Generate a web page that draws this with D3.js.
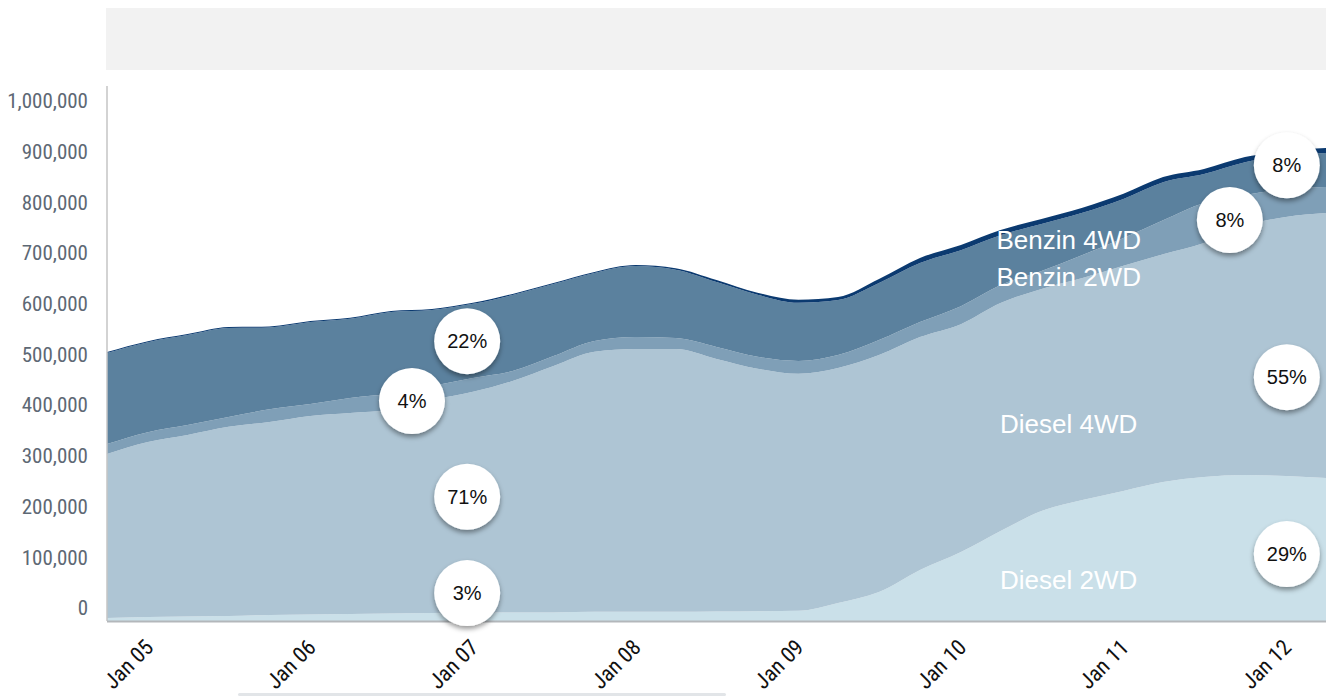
<!DOCTYPE html>
<html lang="de">
<head>
	<meta charset="UTF-8">
	<title>Fahrzeugbestand</title>
	<style>
		body { margin: 0; background: #fff; }
		svg { display: block; }
	</style>
</head>
<body>
	<script src="https://cdn.jsdelivr.net/npm/d3@7/dist/d3.min.js"></script>

	<script type="text/javascript">

		// Quartalswerte (Mitte des Monats)
		var dates = ["2004-11-15", "2005-02-15", "2005-05-15", "2005-08-15", "2005-11-15",
					 "2006-02-15", "2006-05-15", "2006-08-15", "2006-11-15", "2007-02-15",
					 "2007-05-15", "2007-08-15", "2007-11-15", "2008-02-15", "2008-05-15",
					 "2008-08-15", "2008-11-15", "2009-02-15", "2009-05-15", "2009-08-15",
					 "2009-11-15", "2010-02-15", "2010-05-15", "2010-08-15", "2010-11-15",
					 "2011-02-15", "2011-05-15", "2011-08-15", "2011-11-15", "2012-02-15",
					 "2012-05-15"];

		var diesel2wd = [6000, 8000, 9000, 10000, 12000, 13000, 14000, 15000, 16000, 16500,
						 17000, 17000, 18000, 18000, 18000, 18500, 19000, 20000, 35500, 57000,
						 100500, 136000, 177500, 217000, 238500, 256500, 274000, 284000, 288000, 286000,
						 282000];
		var diesel4wd = [323500, 345000, 358000, 373000, 380500, 391500, 396500, 401500, 420000, 435500,
						 456500, 486000, 513000, 518500, 518500, 498500, 478500, 467500, 463500, 467500,
						 459500, 449500, 449500, 438000, 438000, 444000, 449500, 461500, 491000, 511000,
						 522500];
		var benzin2wd = [19500, 19500, 19500, 19500, 25000, 23500, 29500, 31500, 27500, 27500,
						 19500, 19500, 21500, 23500, 21500, 23500, 23500, 25500, 25500, 29500,
						 29500, 35500, 35500, 35500, 45500, 55000, 67000, 79000, 61000, 55000,
						 51500];
		var benzin4wd = [179500, 177500, 177500, 175500, 161500, 161500, 156000, 161500, 150000, 146000,
						 150000, 142000, 134000, 140000, 135000, 128000, 122500, 114500, 108500, 112500,
						 116500, 110500, 98500, 92500, 83000, 77000, 75000, 57000, 65000, 65000,
						 67000];
		var uebrige = [2000, 2000, 2000, 2000, 2000, 2000, 2000, 2000, 2000, 2000,
					   2000, 2000, 2000, 2000, 3000, 4000, 4000, 6000, 6000, 8000,
					   10000, 10000, 10000, 10000, 10000, 10000, 10000, 10000, 10000, 10000,
					   10000];

		var seriesKeys = ["Diesel 2WD", "Diesel 4WD", "Benzin 2WD", "Benzin 4WD", "Übrige"];
		var seriesColors = ["#cae0e9", "#aec5d4", "#7f9fb7", "#5b819e", "#0b3a70"];

		var yTicks = [0, 100000, 200000, 300000, 400000, 500000, 600000, 700000, 800000, 900000, 1000000];
		var xTicks = ["2005-01-01", "2006-01-01", "2007-01-01", "2008-01-01",
					  "2009-01-01", "2010-01-01", "2011-01-01", "2012-01-01"];

		// Reihen-Beschriftung: Datum und Wert der Grundlinie
		var labelText = ["Benzin 4WD", "Benzin 2WD", "Diesel 4WD", "Diesel 2WD"];
		var labelDate = ["2010-10-15", "2010-10-15", "2010-10-15", "2010-10-15"];
		var labelValue = [734000, 660000, 371000, 63000];

		// Anteile in Kreisen
		var bubbleText = ["22%", "4%", "71%", "3%", "8%", "8%", "55%", "29%"];
		var bubbleDate = ["2007-02-02", "2006-10-01", "2007-02-02", "2007-02-02",
						  "2012-02-17", "2011-10-12", "2012-02-17", "2012-02-17"];
		var bubbleValue = [552000, 434000, 245000, 55000, 899000, 791000, 481000, 132000];

		var width = 1326;
		var height = 696;
		var padding = { top: 114, right: 0, bottom: 75, left: 107 };

		var parse = d3.timeParse("%Y-%m-%d");

		var table = dates.map(function(d, i) {
			return {
				date: parse(d),
				"Diesel 2WD": diesel2wd[i],
				"Diesel 4WD": diesel4wd[i],
				"Benzin 2WD": benzin2wd[i],
				"Benzin 4WD": benzin4wd[i],
				"Übrige": uebrige[i]
			};
		});

		var svg = d3.select("body")
					.append("svg")
					.attr("width", width)
					.attr("height", height);

		// Schatten für die Kreise
		var filter = svg.append("defs")
						.append("filter")
						.attr("id", "shadow")
						.attr("x", "-30%").attr("y", "-30%")
						.attr("width", "160%").attr("height", "170%");
		filter.append("feDropShadow")
			  .attr("dx", 0)
			  .attr("dy", 3)
			  .attr("stdDeviation", 2.5)
			  .attr("flood-color", "#000")
			  .attr("flood-opacity", 0.4);

		// grauer Balken oben
		svg.append("rect")
		   .attr("x", 106)
		   .attr("y", 8)
		   .attr("width", width - 106)
		   .attr("height", 62)
		   .attr("fill", "#f2f2f2");

		var x = d3.scaleTime()
				  .domain([parse(dates[0]), parse(dates[dates.length - 1])])
				  .range([padding.left, width - padding.right]);

		var y = d3.scaleLinear()
				  .domain([0, 1000000])
				  .range([height - padding.bottom, padding.top]);

		var stack = d3.stack().keys(seriesKeys);
		var layers = stack(table);

		var area = d3.area()
					 .x(function(d) { return x(d.data.date); })
					 .y0(function(d) { return y(d[0]); })
					 .y1(function(d) { return y(d[1]); })
					 .curve(d3.curveMonotoneX);

		svg.selectAll("path.layer")
		   .data(layers)
		   .enter()
		   .append("path")
		   .attr("class", "layer")
		   .attr("fill", function(d, i) { return seriesColors[i]; })
		   .attr("d", area);

		// Achsenlinien
		svg.append("line")
		   .attr("x1", padding.left).attr("x2", padding.left)
		   .attr("y1", 86).attr("y2", y(0))
		   .attr("stroke", "#c4c4c4")
		   .attr("stroke-width", 1.5);

		svg.append("line")
		   .attr("x1", padding.left).attr("x2", width)
		   .attr("y1", y(0) + 0.5).attr("y2", y(0) + 0.5)
		   .attr("stroke", "#b3b7bb")
		   .attr("stroke-width", 2);

		// Y-Achse
		var yAxis = d3.axisLeft(y)
					  .tickValues(yTicks)
					  .tickFormat(d3.format(","))
					  .tickSize(0)
					  .tickPadding(19);

		var gy = svg.append("g")
					.attr("transform", "translate(" + padding.left + ",-13)")
					.call(yAxis);
		gy.select(".domain").remove();
		gy.selectAll("text")
		  .attr("fill", "#5d6874")
		  .attr("font-size", "21px")
		  .attr("font-family", "'Liberation Sans Narrow', 'Roboto Condensed', 'DejaVu Sans Condensed', sans-serif");

		// X-Achse
		var xAxis = d3.axisBottom(x)
					  .tickValues(xTicks.map(parse))
					  .tickFormat(d3.timeFormat("%b %y"))
					  .tickSize(0);

		var gx = svg.append("g")
					.attr("transform", "translate(0," + y(0) + ")")
					.call(xAxis);
		gx.select(".domain").remove();
		gx.selectAll("text")
		  .attr("fill", "#111")
		  .attr("font-size", "22px")
		  .attr("font-family", "'Liberation Sans Narrow', 'Roboto Condensed', 'DejaVu Sans Condensed', sans-serif")
		  .attr("text-anchor", "middle")
		  .attr("y", 0)
		  .attr("dy", "0.35em")
		  .attr("transform", "translate(0,43) rotate(-45)");

		// Reihen-Beschriftungen
		svg.selectAll("text.serie")
		   .data(labelText)
		   .enter()
		   .append("text")
		   .attr("class", "serie")
		   .attr("x", function(d, i) { return x(parse(labelDate[i])); })
		   .attr("y", function(d, i) { return y(labelValue[i]); })
		   .attr("text-anchor", "middle")
		   .attr("fill", "#ffffff")
		   .attr("font-size", "26px")
		   .attr("font-family", "'Liberation Sans', Arial, sans-serif")
		   .text(function(d) { return d; });

		// Kreise mit Anteilen
		var bubbles = svg.selectAll("g.bubble")
						 .data(bubbleText)
						 .enter()
						 .append("g")
						 .attr("class", "bubble")
						 .attr("transform", function(d, i) {
						 	return "translate(" + x(parse(bubbleDate[i])) + "," + y(bubbleValue[i]) + ")";
						 });

		bubbles.append("circle")
			   .attr("r", 33)
			   .attr("fill", "#ffffff")
			   .attr("filter", "url(#shadow)");

		bubbles.append("text")
			   .attr("text-anchor", "middle")
			   .attr("dy", "0.36em")
			   .attr("fill", "#111")
			   .attr("font-size", "20px")
			   .attr("font-family", "'Liberation Sans', Arial, sans-serif")
			   .text(function(d) { return d; });

		// grauer Rollbalken unten
		svg.append("rect")
		   .attr("x", 238)
		   .attr("y", 693)
		   .attr("width", 488)
		   .attr("height", 3)
		   .attr("rx", 1.5)
		   .attr("fill", "#e2e5e8");

	</script>
</body>
</html>
